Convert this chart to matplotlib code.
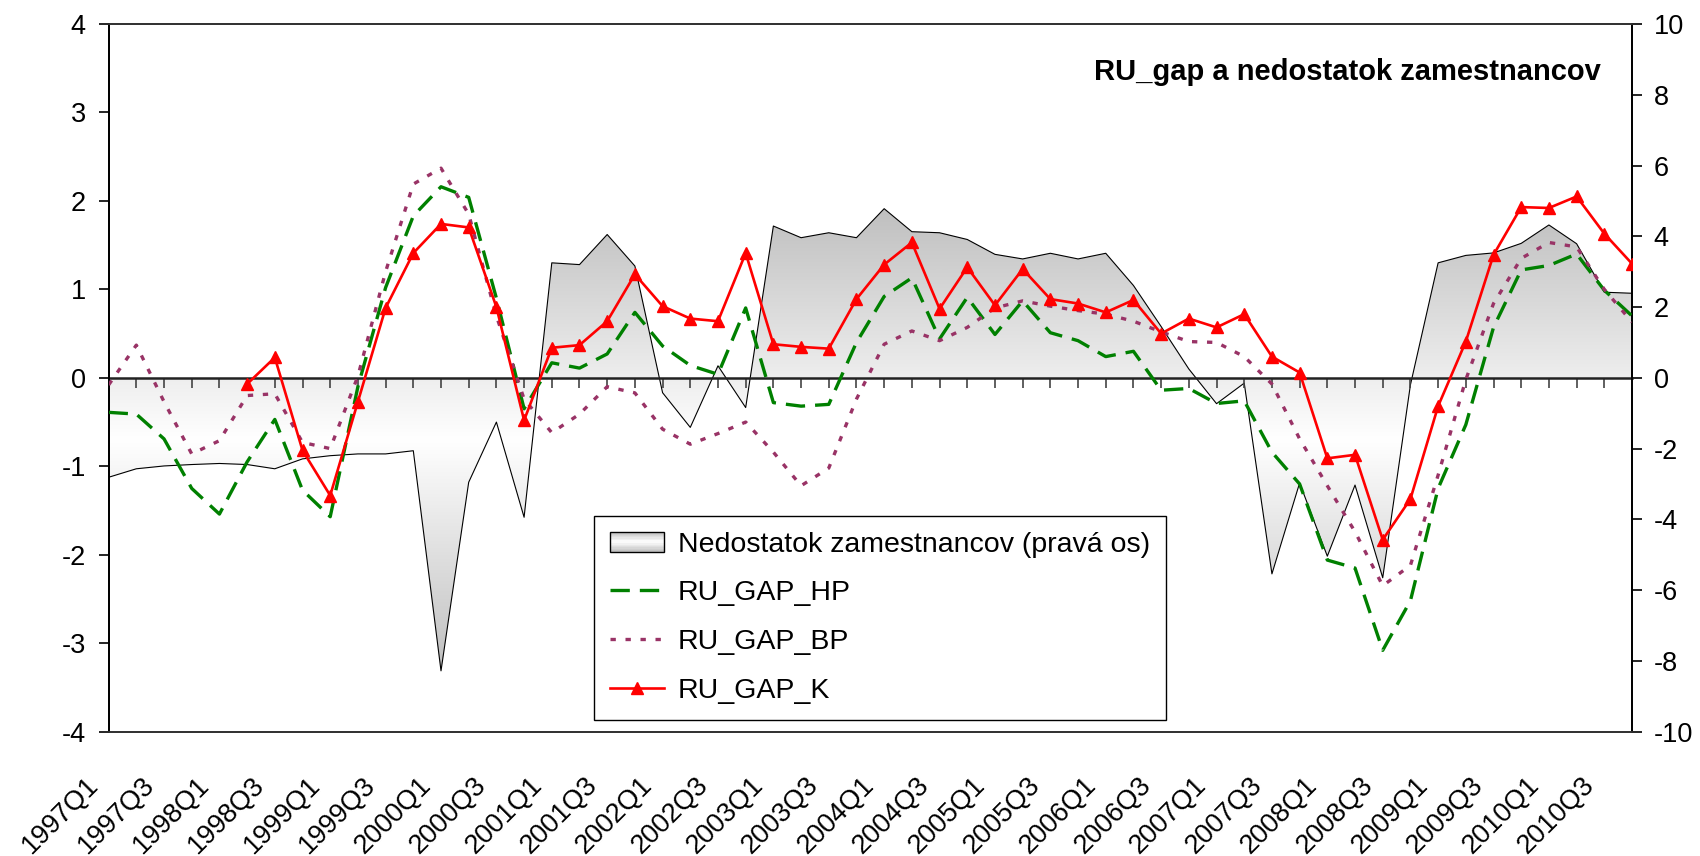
import numpy as np
import matplotlib
matplotlib.use('Agg')
import matplotlib.pyplot as plt
from matplotlib.patches import Rectangle
from matplotlib.legend_handler import HandlerBase
from matplotlib.transforms import ScaledTranslation

plt.rcParams['font.family'] = ['Liberation Sans', 'DejaVu Sans']
plt.rcParams['axes.unicode_minus'] = False

# quarters 1997Q1 .. 2010Q4
quarters = [f'{y}Q{q}' for y in range(1997, 2011) for q in range(1, 5)]

# Nedostatok zamestnancov (right axis)
nedostatok = [-2.81, -2.57, -2.49, -2.45, -2.42, -2.45, -2.57, -2.29, -2.20, -2.15,
              -2.15, -2.06, -8.28, -2.95, -1.25, -3.94, 3.25, 3.20, 4.05, 3.16,
              -0.42, -1.40, 0.34, -0.84, 4.29, 3.96, 4.10, 3.96, 4.78, 4.13,
              4.10, 3.91, 3.49, 3.36, 3.52, 3.36, 3.52, 2.61, 1.45, 0.25,
              -0.73, -0.15, -5.54, -2.97, -5.04, -3.03, -5.65, -0.20, 3.25, 3.46,
              3.53, 3.80, 4.32, 3.79, 2.42, 2.39]

ru_gap_hp = [-0.39, -0.41, -0.69, -1.25, -1.54, -0.95, -0.47, -1.27, -1.57, -0.10,
             1.02, 1.83, 2.16, 2.04, 0.90, -0.35, 0.17, 0.11, 0.27, 0.74,
             0.36, 0.14, 0.04, 0.79, -0.28, -0.32, -0.30, 0.40, 0.92, 1.13,
             0.44, 0.91, 0.49, 0.87, 0.51, 0.42, 0.24, 0.30, -0.14, -0.12,
             -0.29, -0.26, -0.84, -1.20, -2.06, -2.15, -3.08, -2.52, -1.25, -0.53,
             0.57, 1.22, 1.27, 1.40, 0.99, 0.70]

ru_gap_bp = [-0.08, 0.37, -0.27, -0.86, -0.71, -0.20, -0.18, -0.73, -0.80, 0.02,
             1.20, 2.19, 2.37, 1.85, 0.70, -0.24, -0.62, -0.41, -0.10, -0.17,
             -0.58, -0.75, -0.63, -0.50, -0.84, -1.22, -1.02, -0.24, 0.38, 0.53,
             0.42, 0.57, 0.79, 0.87, 0.81, 0.76, 0.72, 0.64, 0.52, 0.41,
             0.40, 0.24, -0.07, -0.69, -1.22, -1.74, -2.35, -2.12, -1.10, -0.02,
             0.84, 1.35, 1.53, 1.48, 1.00, 0.63]

ru_gap_k = [None, None, None, None, None, -0.07, 0.23, -0.82, -1.33, -0.27,
            0.79, 1.41, 1.74, 1.70, 0.80, -0.48, 0.34, 0.37, 0.64, 1.17,
            0.81, 0.67, 0.64, 1.41, 0.38, 0.35, 0.33, 0.89, 1.28, 1.53,
            0.78, 1.25, 0.82, 1.23, 0.89, 0.84, 0.74, 0.88, 0.50, 0.67,
            0.57, 0.72, 0.24, 0.06, -0.91, -0.87, -1.83, -1.37, -0.32, 0.41,
            1.39, 1.93, 1.92, 2.05, 1.63, 1.29]

labels = ['Nedostatok zamestnancov (pravá os)', 'RU_GAP_HP', 'RU_GAP_BP', 'RU_GAP_K']


class GradientHandler(HandlerBase):
    # legend box with the same grey-white-grey gradient as the area
    def create_artists(self, legend, orig_handle, xdescent, ydescent,
                       width, height, fontsize, trans):
        n = 14
        arts = []
        for k in range(n):
            t = abs((k + 0.5) / n * 2 - 1)
            c = 1 - 0.25 * t
            arts.append(Rectangle((-xdescent, -ydescent + k * height / n), width, height / n,
                                  facecolor=(c, c, c), edgecolor='none', transform=trans))
        arts.append(Rectangle((-xdescent, -ydescent), width, height, facecolor='none',
                              edgecolor='black', lw=1.0, transform=trans))
        return arts


x = np.arange(len(quarters))
area = np.array(nedostatok, dtype=float)

fig = plt.figure(figsize=(17, 8.56), dpi=100)
ax = fig.add_axes([0.0639, 0.1452, 0.8961, 0.8268])
ax2 = ax.twinx()
ax.set_zorder(ax2.get_zorder() + 1)
ax.patch.set_visible(False)

# area with vertical gradient (grey at extremes, white in the middle)
poly = ax2.fill_between(x, area, 0, facecolor='none', edgecolor='none')
lo, hi = area.min(), area.max()
yy = np.linspace(lo, hi, 256)
g = 1 - 0.25 * np.abs(yy - (lo + hi) / 2) / ((hi - lo) / 2)
img = np.stack([g, g, g], axis=-1)[:, None, :]
im = ax2.imshow(img, extent=[x[0], x[-1], lo, hi], origin='lower', aspect='auto',
                interpolation='bilinear', zorder=1)
im.set_clip_path(poly.get_paths()[0], transform=ax2.transData)
ax2.plot(x, area, color='black', lw=0.8, zorder=2)
ax2.set_ylim(-10, 10)
ax2.set_yticks(range(-10, 11, 2))
ax2.tick_params(axis='y', direction='out', length=7.5, width=1.2, labelsize=19.5, pad=8)

l_hp, = ax.plot(x, ru_gap_hp, color='#008000', lw=2.4, dashes=(5.8, 3.0), zorder=3)
l_bp, = ax.plot(x, ru_gap_bp, color='#993366', lw=2.4, dashes=(1.6, 2.9), zorder=3)
l_k, = ax.plot(x, np.array(ru_gap_k, dtype=float), color='#ff0000', lw=1.9,
               marker='^', ms=9, zorder=4)

ax.set_xlim(0, len(x) - 1)
ax.set_ylim(-4, 4)
ax.set_yticks(range(-4, 5))
ax.tick_params(axis='y', direction='out', length=7.5, width=1.2, labelsize=19.5, pad=9)

# category axis crossing at zero
zero = ax.secondary_xaxis(0.5)
zero.set_alignment('bottom')
zero.set_xticks(x)
zero.tick_params(direction='out', length=7.5, width=1.2, color='#444444',
                 labelbottom=False, labeltop=False)
zero.spines['bottom'].set_linewidth(1.8)
zero.spines['bottom'].set_color('#222222')

ax.set_xticks(x[::2])
ax.set_xticklabels(quarters[::2], rotation=45, ha='right', va='top',
                   rotation_mode='anchor', fontsize=19.5)
ax.tick_params(axis='x', length=0, pad=29)
for lab in ax.get_xticklabels():
    lab.set_transform(lab.get_transform() + ScaledTranslation(-0.23, 0, fig.dpi_scale_trans))

for a in (ax, ax2):
    for side in ('left', 'right'):
        a.spines[side].set_linewidth(1.3)
        a.spines[side].set_color('black')
    for side in ('top', 'bottom'):
        a.spines[side].set_linewidth(1.3)
        a.spines[side].set_color('#333333')

ax.text(0.9797, 0.932, 'RU_gap a nedostatok zamestnancov', transform=ax.transAxes,
        ha='right', va='center', fontsize=21, fontweight='bold')

area_proxy = Rectangle((0, 0), 1, 1)
leg = ax.legend([area_proxy, l_hp, l_bp, l_k], labels, loc='upper left',
                bbox_to_anchor=(0.3186, 0.3048), fontsize=20.5, frameon=True,
                fancybox=False, edgecolor='black', framealpha=1, borderpad=0.55,
                labelspacing=0.8, handlelength=1.9, handletextpad=0.5,
                borderaxespad=0, handler_map={area_proxy: GradientHandler()})
leg.get_frame().set_linewidth(1.0)
leg.set_zorder(10)

fig.savefig('out.png', dpi=100, facecolor='white')
